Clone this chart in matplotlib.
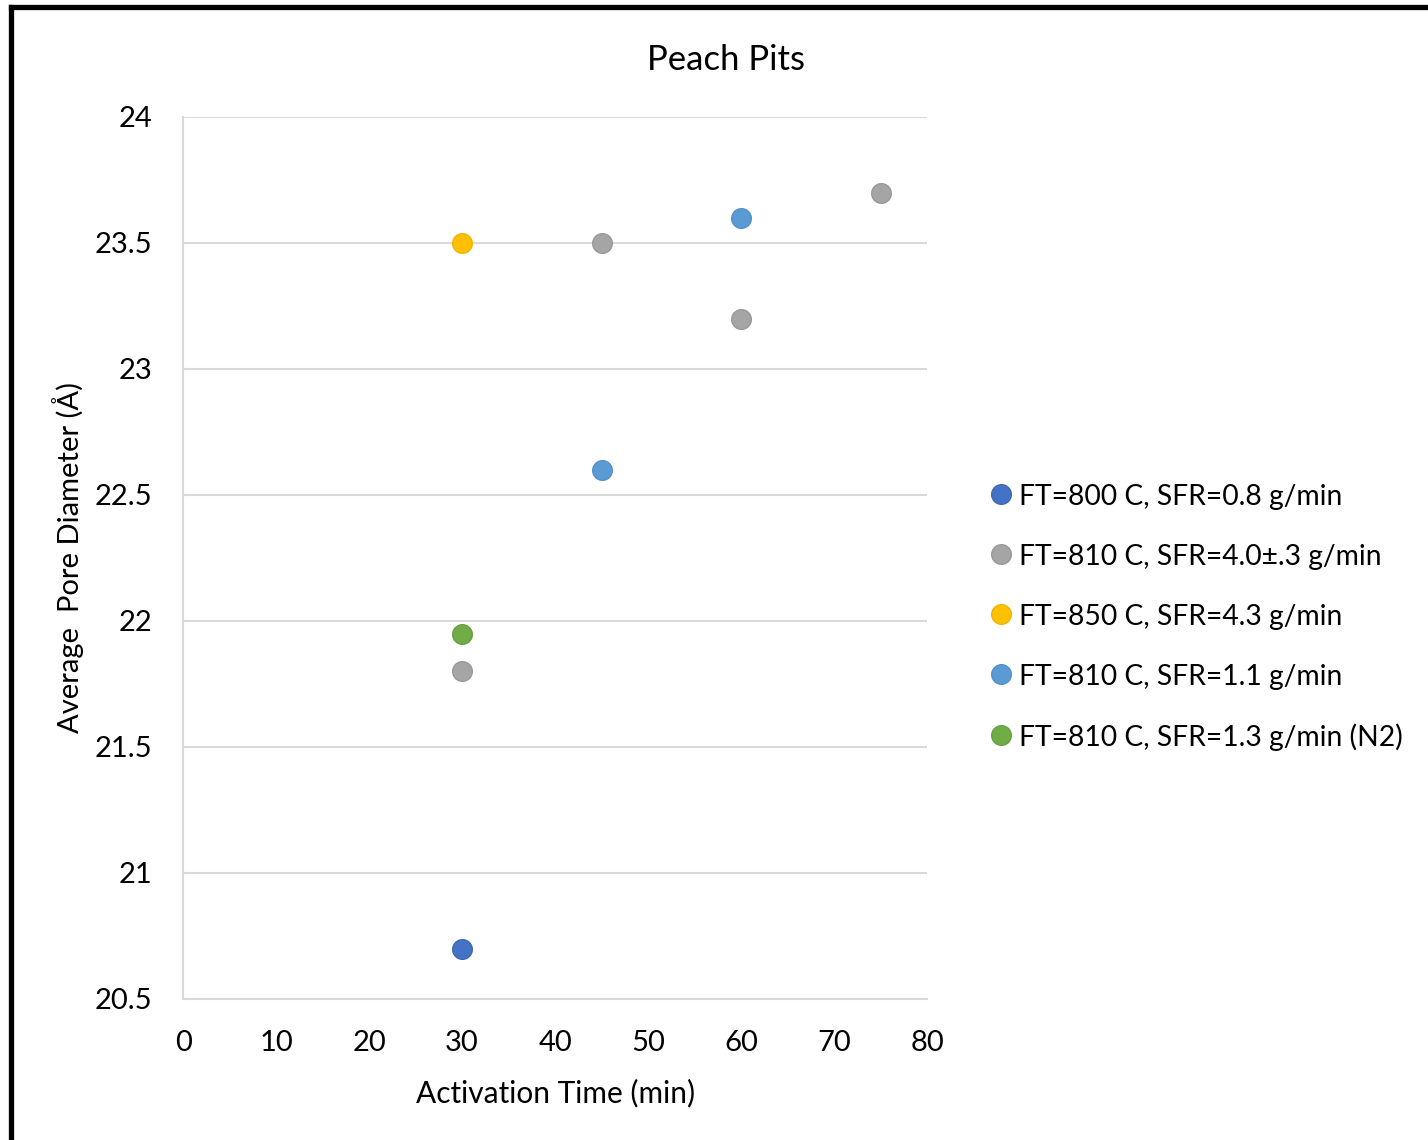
import matplotlib.pyplot as plt
from matplotlib.lines import Line2D

plt.rcParams['font.family'] = ['Lato', 'DejaVu Sans']

# data
labels = ['FT=800 C, SFR=0.8 g/min', 'FT=810 C, SFR=4.0\u00b1.3 g/min',
          'FT=850 C, SFR=4.3 g/min', 'FT=810 C, SFR=1.1 g/min',
          'FT=810 C, SFR=1.3 g/min (N2)']
colors = ['#4472C4', '#A5A5A5', '#FFC000', '#5B9BD5', '#70AD47']
edges = ['#3F69B5', '#999999', '#F0B400', '#5590C8', '#68A140']
x_vals = [[30], [30, 45, 60, 75], [30], [45, 60], [30]]
y_vals = [[20.7], [21.8, 23.5, 23.2, 23.7], [23.5], [22.6, 23.6], [21.95]]

fig = plt.figure(figsize=(14.28, 11.4), dpi=100)
ax = fig.add_axes([0.1282, 0.1237, 0.5210, 0.7737])

for xs, ys, c, ec, lab in zip(x_vals, y_vals, colors, edges, labels):
    ax.scatter(xs, ys, s=200, color=c, edgecolors=ec, linewidths=1.0, label=lab, zorder=3)

ax.set_xlim(0, 80)
ax.set_ylim(20.5, 24)
ax.set_xticks(range(0, 81, 10))
ax.set_yticks([20.5, 21, 21.5, 22, 22.5, 23, 23.5, 24])
ax.set_yticklabels(['20.5', '21', '21.5', '22', '22.5', '23', '23.5', '24'])
ax.tick_params(length=0, labelsize=21)
ax.tick_params(axis='y', pad=22)
ax.tick_params(axis='x', pad=22)
ax.yaxis.grid(True, color='#D9D9D9', linewidth=1.5)
ax.set_axisbelow(True)
for s in ['top', 'right']:
    ax.spines[s].set_visible(False)
for s in ['left', 'bottom']:
    ax.spines[s].set_color('#D9D9D9')
    ax.spines[s].set_linewidth(1.5)

ax.set_xlabel('Activation Time (min)', fontsize=21.5, labelpad=17)
ax.set_ylabel('Average  Pore Diameter (\u00c5)', fontsize=21, labelpad=8)
fig.text(726 / 1428, 1 - 60 / 1140, 'Peach Pits', fontsize=25, ha='center', va='center')

leg = fig.legend(loc='upper left', bbox_to_anchor=(977 / 1428, 1 - 470 / 1140),
                 frameon=False, fontsize=20.3, handlelength=0.7, handletextpad=0.3,
                 labelspacing=1.2, borderpad=0, markerscale=1.0)
# nudge legend dots up a little so they sit level with the text
for h in leg.legend_handles:
    h.set_offsets(h.get_offsets() + [0, 2.5])

# black frame on left and top edges
fig.add_artist(Line2D([10.5 / 1428, 10.5 / 1428], [0, 1 - 6.5 / 1140],
                      transform=fig.transFigure, color='black', linewidth=3.8,
                      solid_capstyle='projecting'))
fig.add_artist(Line2D([10.5 / 1428, 1], [1 - 6.5 / 1140, 1 - 6.5 / 1140],
                      transform=fig.transFigure, color='black', linewidth=3.8,
                      solid_capstyle='projecting'))

fig.savefig('out.png', dpi=100)
